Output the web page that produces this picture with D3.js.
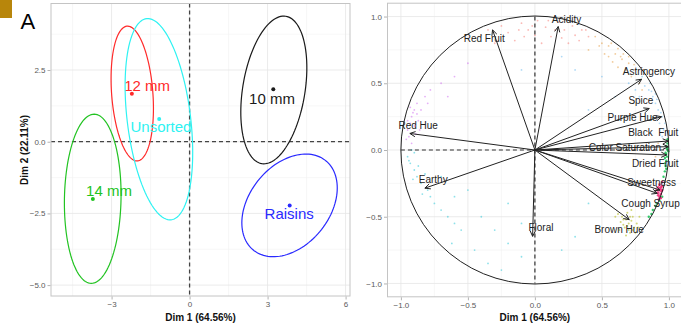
<!DOCTYPE html>
<html><head><meta charset="utf-8">
<script src="https://cdn.jsdelivr.net/npm/d3@7"></script>
<style>
html,body{margin:0;padding:0;background:#fff;}
svg{display:block;font-family:"Liberation Sans",Arial,sans-serif;}
</style></head>
<body><svg id="c" width="681" height="328"></svg>
<script>
// ---------- Panel A: individuals / group ellipses ----------
const groups     = ["12 mm","Unsorted","14 mm","10 mm","Raisins"];
const groupColor = ["#ff2a2a","#2ef2f2","#22c322","#1a1a1a","#2a2aff"];
const centerX    = [-2.22,-1.17,-3.72,3.22,3.85];
const centerY    = [1.67,0.79,-2.00,1.83,-2.22];
const ellCX      = [-2.205,-1.18,-3.725,3.24,3.845];
const ellCY      = [1.68,0.785,-1.99,1.805,-2.22];
const ellRX      = [0.815,1.30,1.09,1.27,1.835];
const ellRY      = [2.35,3.51,2.95,2.575,1.79];
const ellRho     = [-0.22,-0.33,0.05,0.30,0.34];
const groupLabX  = [-1.63,-1.10,-3.10,3.17,3.83];
const groupLabY  = [1.94,0.51,-1.72,1.49,-2.51];
const xTicksA    = [-3,0,3,6];
const yTicksA    = [-5.0,-2.5,0.0,2.5];
const xMinorA    = [-4.5,-1.5,1.5,4.5];
const yMinorA    = [-3.75,-1.25,1.25,3.75];

// ---------- Panel B: variables ----------
const vars  = ["Acidity","Red Fruit","Astringency","Spice","Purple Hue","Black  Fruit","Color Saturation","Dried Fruit","Sweetness","Cough Syrup","Brown Hue","Floral","Earthy","Red Hue"];
const varX  = [0.174,-0.316,0.796,0.853,0.945,0.995,0.995,0.983,0.933,0.913,0.704,-0.017,-0.821,-0.933];
const varY  = [0.925,0.900,0.530,0.311,0.249,0.067,0.025,-0.037,-0.300,-0.325,-0.522,-0.647,-0.286,0.124];
const varLabX = [0.236,-0.378,0.851,0.791,0.729,0.883,0.672,0.898,0.871,0.863,0.629,0.045,-0.759,-0.871];
const varLabY = [0.982,0.838,0.590,0.371,0.241,0.129,0.022,-0.102,-0.246,-0.398,-0.592,-0.577,-0.224,0.187];
const ticksB  = [-1.0,-0.5,0.0,0.5,1.0];
const minorB  = [-0.75,-0.25,0.25,0.75];

// faint background points
const ptsSalmon = [[-0.35,0.9],[-0.25,0.93],[-0.2,0.88],[-0.1,0.95],[-0.05,0.9],[0.02,0.97],[0.08,0.92],[0.12,0.85],[0.18,0.96],[0.22,0.9],[0.28,0.93],[0.3,0.86],[0.35,0.9],[-0.15,0.82],[0.05,0.8],[0.25,0.8],[-0.3,0.8],[0.4,0.85],[0.15,0.9],[-0.08,0.85],[-0.4,0.86],[0.1,0.97],[-0.02,0.93],[0.33,0.82],[0.2,0.84],[-0.12,0.9],[0.38,0.9],[0.0,0.86]];
const ptsOrange = [[0.45,0.85],[0.5,0.8],[0.55,0.78],[0.6,0.72],[0.62,0.76],[0.65,0.68],[0.7,0.65],[0.52,0.72],[0.58,0.66],[0.68,0.6],[0.72,0.55],[0.75,0.6],[0.48,0.78],[0.4,0.75],[0.66,0.72],[0.78,0.5],[0.55,0.7],[0.62,0.62],[0.7,0.7],[0.8,0.45],[0.9,-0.05],[0.92,0.05],[0.57,0.8],[0.64,0.7],[0.74,0.64]];
const ptsBlue   = [[0.8,0.55],[0.85,0.45],[0.88,0.4],[0.9,0.35],[0.92,0.3],[0.86,0.5],[0.82,0.48],[0.95,0.25],[0.93,0.2],[0.78,0.4],[0.7,0.5],[0.9,0.42],[0.96,0.15],[0.6,0.4],[0.5,0.55],[0.84,0.3],[0.75,0.45],[0.95,0.1],[0.97,0.2],[0.88,0.25],[0.3,0.6],[0.2,0.7],[-0.1,0.6],[0.4,0.3],[0.91,0.38],[0.87,0.44],[0.94,0.28]];
const ptsGreen  = [[0.99,0.05],[0.99,0.02],[0.995,-0.01],[0.985,-0.05],[0.98,-0.08],[0.975,-0.12],[0.97,-0.16],[0.96,-0.2],[0.99,0.08],[0.98,0.03],[0.975,-0.02],[0.97,-0.06],[0.95,-0.35],[0.93,-0.38],[0.9,-0.42],[0.88,-0.45],[0.85,-0.5],[0.97,-0.1],[0.98,-0.14],[0.99,0.0],[0.985,0.01],[0.98,-0.03],[0.87,-0.48],[0.91,-0.4]];
const ptsPink   = [[0.94,-0.28],[0.93,-0.3],[0.92,-0.32],[0.95,-0.27],[0.94,-0.33],[0.93,-0.35],[0.91,-0.3],[0.95,-0.3],[0.92,-0.28],[0.93,-0.26],[0.94,-0.36],[0.92,-0.34],[0.945,-0.31],[0.935,-0.29],[0.925,-0.37],[0.95,-0.24]];
const ptsOlive  = [[0.65,-0.5],[0.68,-0.52],[0.7,-0.55],[0.72,-0.53],[0.74,-0.58],[0.66,-0.56],[0.7,-0.6],[0.62,-0.48],[0.76,-0.55],[0.73,-0.5],[0.69,-0.47],[0.64,-0.54],[0.71,-0.62],[0.75,-0.62],[0.6,-0.5],[0.78,-0.5],[0.67,-0.58],[0.72,-0.45],[0.68,-0.64],[0.63,-0.6],[0.77,-0.58],[0.71,-0.5],[0.69,-0.57],[0.73,-0.6],[0.66,-0.52]];
const ptsPurple = [[-0.93,0.2],[-0.92,0.25],[-0.9,0.3],[-0.88,0.35],[-0.95,0.15],[-0.94,0.1],[-0.9,0.18],[-0.87,0.22],[-0.85,0.3],[-0.92,0.05],[-0.96,0.08],[-0.89,0.12],[-0.82,0.4],[-0.8,0.35],[-0.78,0.45],[-0.7,0.5],[-0.6,0.55],[-0.86,0.15],[-0.95,0.22],[-0.91,0.28],[-0.5,0.65],[-0.65,0.4],[-0.93,0.32],[-0.88,0.27]];
const ptsCyan   = [[-0.95,-0.05],[-0.93,-0.1],[-0.9,-0.15],[-0.88,-0.2],[-0.85,-0.25],[-0.8,-0.3],[-0.78,-0.35],[-0.75,-0.4],[-0.7,-0.45],[-0.65,-0.5],[-0.6,-0.55],[-0.55,-0.6],[-0.5,-0.3],[-0.4,-0.5],[-0.3,-0.6],[-0.2,-0.7],[-0.1,-0.8],[-0.45,-0.75],[-0.35,-0.85],[-0.9,-0.02],[-0.92,0.0],[-0.7,-0.2],[-0.6,-0.35],[-0.2,-0.4],[-0.1,-0.55],[0.1,-0.6],[0.2,-0.75],[0.3,-0.65],[0.4,-0.4],[-0.62,-0.7],[-0.25,-0.9],[-0.94,-0.08],[-0.87,-0.12],[-0.82,-0.18],[-0.91,-0.22],[-0.84,-0.33]];
const ptGroups = [
  {pts:ptsSalmon,col:"#f8766d",op:0.5,r:0.9},{pts:ptsOrange,col:"#e69a3a",op:0.5,r:0.9},{pts:ptsBlue,col:"#61b5ee",op:0.5,r:0.9},
  {pts:ptsCyan,col:"#2fc8d8",op:0.55,r:0.9},{pts:ptsPurple,col:"#d070f0",op:0.55,r:0.9},{pts:ptsOlive,col:"#b5bd22",op:0.6,r:1},
  {pts:ptsGreen,col:"#10c050",op:0.85,r:1.2},{pts:ptsPink,col:"#f0307a",op:0.9,r:1.4}
];

const svg = d3.select("#c");

// gold corner block
svg.append("rect").attr("x",0).attr("y",0).attr("width",12).attr("height",18).attr("fill","#b8860b");

// ===== Panel A =====
const xA = d3.scaleLinear().domain([-5.33,6.17]).range([51,350]);
const yA = d3.scaleLinear().domain([-5.38,4.82]).range([296,3.5]);
const gA = svg.append("g");
gA.append("rect").attr("x",51).attr("y",3.5).attr("width",299).attr("height",292.5).attr("fill","#fff");
gA.selectAll(".mnx").data(xMinorA).join("line").attr("x1",d=>xA(d)).attr("x2",d=>xA(d)).attr("y1",3.5).attr("y2",296).attr("stroke","#f2f2f2").attr("stroke-width",0.6);
gA.selectAll(".mny").data(yMinorA).join("line").attr("y1",d=>yA(d)).attr("y2",d=>yA(d)).attr("x1",51).attr("x2",350).attr("stroke","#f2f2f2").attr("stroke-width",0.6);
gA.selectAll(".mjx").data(xTicksA).join("line").attr("x1",d=>xA(d)).attr("x2",d=>xA(d)).attr("y1",3.5).attr("y2",296).attr("stroke","#e6e6e6").attr("stroke-width",0.8);
gA.selectAll(".mjy").data(yTicksA).join("line").attr("y1",d=>yA(d)).attr("y2",d=>yA(d)).attr("x1",51).attr("x2",350).attr("stroke","#e6e6e6").attr("stroke-width",0.8);
gA.append("line").attr("x1",51).attr("x2",350).attr("y1",yA(0)).attr("y2",yA(0)).attr("stroke","#444").attr("stroke-width",1.3).attr("stroke-dasharray","4,3");
gA.append("line").attr("x1",xA(0)).attr("x2",xA(0)).attr("y1",3.5).attr("y2",296).attr("stroke","#444").attr("stroke-width",1.3).attr("stroke-dasharray","4,3");
const tt = d3.range(0,361,3).map(d=>d*Math.PI/180);
const ellLine = d3.line().x(d=>xA(d[0])).y(d=>yA(d[1])).curve(d3.curveLinearClosed);
groups.forEach((g,i)=>{
  const pts = tt.map(t=>[ellCX[i]+ellRX[i]*Math.cos(t), ellCY[i]+ellRY[i]*(ellRho[i]*Math.cos(t)+Math.sqrt(1-ellRho[i]*ellRho[i])*Math.sin(t))]);
  gA.append("path").attr("d",ellLine(pts)).attr("fill","none").attr("stroke",groupColor[i]).attr("stroke-width",1.2);
  gA.append("circle").attr("cx",xA(centerX[i])).attr("cy",yA(centerY[i])).attr("r",2).attr("fill",groupColor[i]);
  gA.append("text").attr("x",xA(groupLabX[i])).attr("y",yA(groupLabY[i])).attr("dy","0.36em").attr("text-anchor","middle").attr("font-size",15).attr("fill",groupColor[i]).text(g);
});
gA.append("rect").attr("x",51).attr("y",3.5).attr("width",299).attr("height",292.5).attr("fill","none").attr("stroke","#c4c4c4").attr("stroke-width",1);
const axA_x = d3.axisBottom(xA).tickValues(xTicksA).tickSize(3).tickPadding(2).tickFormat(d3.format("d"));
const axA_y = d3.axisLeft(yA).tickValues(yTicksA).tickSize(3).tickPadding(2).tickFormat(d3.format(".1f"));
const gax = svg.append("g").attr("transform","translate(0,296.5)").call(axA_x);
const gay = svg.append("g").attr("transform","translate(50.5,0)").call(axA_y);
[gax,gay].forEach(g=>{g.select(".domain").remove();g.selectAll("line").attr("stroke","#b3b3b3");g.selectAll("text").attr("fill","#5a5a5a").attr("font-size",8).attr("font-family","Liberation Sans, Arial, sans-serif");});
svg.append("text").attr("x",200.5).attr("y",320.5).attr("text-anchor","middle").attr("font-size",10).attr("font-weight","bold").attr("fill","#111").text("Dim 1 (64.56%)");
svg.append("text").attr("transform","translate(27.8,150) rotate(-90)").attr("text-anchor","middle").attr("font-size",10).attr("font-weight","bold").attr("fill","#111").text("Dim 2 (22.11%)");
svg.append("text").attr("x",20.5).attr("y",28.5).attr("font-size",22).attr("fill","#000").text("A");

// ===== Panel B =====
const xB = d3.scaleLinear().domain([-1.1,1.1]).range([387.5,682.3]);
const yB = d3.scaleLinear().domain([-1.1,1.1]).range([296.8,3.2]);
const gB = svg.append("g");
gB.append("rect").attr("x",387.5).attr("y",3.2).attr("width",300).attr("height",293.6).attr("fill","#fff");
gB.selectAll(".mnx").data(minorB).join("line").attr("x1",d=>xB(d)).attr("x2",d=>xB(d)).attr("y1",3.2).attr("y2",296.8).attr("stroke","#f2f2f2").attr("stroke-width",0.6);
gB.selectAll(".mny").data(minorB).join("line").attr("y1",d=>yB(d)).attr("y2",d=>yB(d)).attr("x1",387.5).attr("x2",690).attr("stroke","#f2f2f2").attr("stroke-width",0.6);
gB.selectAll(".mjx").data(ticksB).join("line").attr("x1",d=>xB(d)).attr("x2",d=>xB(d)).attr("y1",3.2).attr("y2",296.8).attr("stroke","#e6e6e6").attr("stroke-width",0.8);
gB.selectAll(".mjy").data(ticksB).join("line").attr("y1",d=>yB(d)).attr("y2",d=>yB(d)).attr("x1",387.5).attr("x2",690).attr("stroke","#e6e6e6").attr("stroke-width",0.8);
ptGroups.forEach(pg=>{
  gB.selectAll(null).data(pg.pts).join("circle").attr("cx",d=>xB(d[0])).attr("cy",d=>yB(d[1])).attr("r",pg.r).attr("fill",pg.col).attr("opacity",pg.op);
});
gB.append("circle").attr("cx",xB(0)).attr("cy",yB(0)).attr("r",xB(1)-xB(0)).attr("fill","none").attr("stroke","#222").attr("stroke-width",1);
gB.append("line").attr("x1",xB(-1)).attr("x2",xB(1)).attr("y1",yB(0)).attr("y2",yB(0)).attr("stroke","#333").attr("stroke-width",1.2).attr("stroke-dasharray","4,3");
gB.append("line").attr("x1",xB(0)).attr("x2",xB(0)).attr("y1",yB(1)).attr("y2",yB(-1)).attr("stroke","#333").attr("stroke-width",1.2).attr("stroke-dasharray","4,3");
vars.forEach((v,i)=>{
  const x0=xB(0),y0=yB(0),x1=xB(varX[i]),y1=yB(varY[i]);
  const a=Math.atan2(y1-y0,x1-x0), L=6, h=Math.PI/7;
  gB.append("line").attr("x1",x0).attr("y1",y0).attr("x2",x1).attr("y2",y1).attr("stroke","#222").attr("stroke-width",1);
  gB.append("path").attr("d",`M${x1-L*Math.cos(a-h)},${y1-L*Math.sin(a-h)}L${x1},${y1}L${x1-L*Math.cos(a+h)},${y1-L*Math.sin(a+h)}`).attr("fill","none").attr("stroke","#222").attr("stroke-width",1);
});
vars.forEach((v,i)=>{
  gB.append("text").attr("x",xB(varLabX[i])).attr("y",yB(varLabY[i])).attr("dy","0.36em").attr("text-anchor","middle").attr("font-size",10).attr("fill","#222").style("white-space","pre").text(v);
});
gB.append("rect").attr("x",387.5).attr("y",3.2).attr("width",300).attr("height",293.6).attr("fill","none").attr("stroke","#c4c4c4").attr("stroke-width",1);
const axB_x = d3.axisBottom(xB).tickValues(ticksB).tickSize(3).tickPadding(2).tickFormat(d3.format(".1f"));
const axB_y = d3.axisLeft(yB).tickValues(ticksB).tickSize(3).tickPadding(2).tickFormat(d3.format(".1f"));
const gbx = svg.append("g").attr("transform","translate(0,297.3)").call(axB_x);
const gby = svg.append("g").attr("transform","translate(387,0)").call(axB_y);
[gbx,gby].forEach(g=>{g.select(".domain").remove();g.selectAll("line").attr("stroke","#b3b3b3");g.selectAll("text").attr("fill","#5a5a5a").attr("font-size",8).attr("font-family","Liberation Sans, Arial, sans-serif");});
svg.append("text").attr("x",xB(0)).attr("y",320.5).attr("text-anchor","middle").attr("font-size",10).attr("font-weight","bold").attr("fill","#111").text("Dim 1 (64.56%)");
</script></body></html>
